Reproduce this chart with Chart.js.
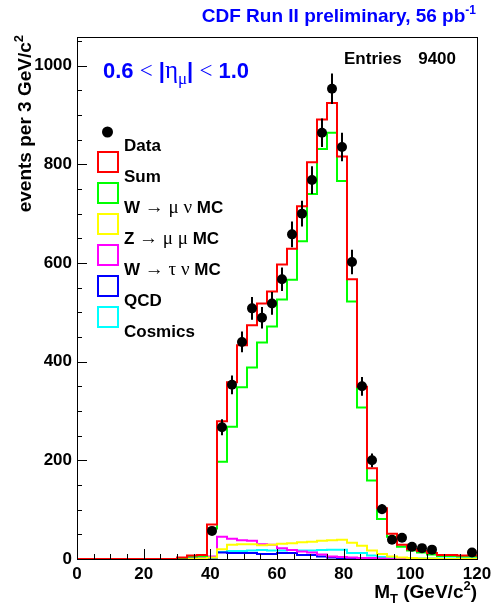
<!DOCTYPE html>
<html>
<head>
<meta charset="utf-8">
<script src="https://cdn.jsdelivr.net/npm/chart.js@4.4.0/dist/chart.umd.min.js"></script>
<style>
    body { margin: 0; background: #fff; }
    canvas { display: block; }
</style>
</head>
<body>
<canvas id="mt-chart" width="502" height="608"></canvas>
<script>
// M_T histogram, 3 GeV bins from 0 to 120
var binLow = 0;
var binWidth = 3;

var xTickValues = [0, 20, 40, 60, 80, 100, 120];
var yTickValues = [0, 200, 400, 600, 800, 1000];

var dataCounts = [
    null, null, null, null, null, null, null, null, null, null,
    null, null, null, 57, 267, 353, 440, 508, 489, 518,
    567, 658, 700, 768, 864, 953, 835, 602, 350, 200,
    101, 39, 43, 25, 22, 19, null, null, null, 13
];
var dataErrors = [
    null, null, null, null, null, null, null, null, null, null,
    null, null, null, 8, 16, 19, 21, 23, 22, 23,
    24, 26, 26, 28, 29, 31, 29, 25, 19, 14,
    10, 6, 7, 5, 5, 4, null, null, null, 4
];
var sumMC = [
    0, 0, 0, 0, 0, 0, 0, 0, 0, 0,
    3, 7, 8, 70, 279, 358, 433, 474, 518, 542,
    597, 629, 715, 804, 891, 924, 816, 567, 349, 184,
    103, 51, 29, 20, 16, 12, 8, 8, 7, 7
];
var wMuNu = [
    0, 0, 0, 0, 0, 0, 0, 0, 0, 0,
    2, 5, 6, 62, 197, 268, 348, 388, 439, 471,
    526, 566, 644, 740, 831, 864, 766, 522, 307, 159,
    81, 45, 25, 17, 13, 9, 6, 6, 5, 5
];
var zMuMu = [
    0, 0, 0, 0, 0, 0, 0, 0, 0, 0,
    0, 0, 1, 3, 20, 29, 30, 30, 28, 29,
    31, 32, 34, 35, 37, 38, 39, 33, 27, 17,
    10, 5, 3, 2, 1, 1, 0, 0, 0, 0
];
var wTauNu = [
    0, 0, 0, 0, 0, 0, 0, 0, 0, 0,
    1, 1, 1, 5, 45, 41, 38, 37, 30, 29,
    22, 18, 15, 13, 9, 5, 4, 3, 2, 2,
    1, 0, 0, 0, 0, 0, 0, 0, 0, 0
];
var qcd = [
    0, 0, 0, 0, 0, 0, 0, 0, 0, 0,
    0, 1, 1, 3, 13, 12, 12, 12, 10, 10,
    12, 12, 8, 8, 5, 3, 2, 2, 1, 1,
    0, 0, 0, 0, 0, 0, 0, 0, 0, 0
];
var cosmics = [
    0, 0, 0, 0, 0, 0, 0, 0, 0, 0,
    0, 0, 1, 2, 14, 16, 16, 17, 18, 17,
    17, 18, 17, 17, 18, 19, 19, 12, 12, 7,
    4, 3, 2, 2, 1, 1, 1, 1, 1, 1
];

var SANS = '"Liberation Sans", Arial, Helvetica, sans-serif';
var SERIF = '"Liberation Serif", "Times New Roman", serif';

var bold = function (px) { return 'bold ' + px + 'px ' + SANS; };
var sym = function (px) { return px + 'px ' + SERIF; };

// step outline through the bin edges
var histPoints = function (values) {
    var pts = [];
    for (var i = 0; i < values.length; i++) {
        pts.push({ x: binLow + i * binWidth, y: values[i] });
    }
    pts.push({ x: binLow + values.length * binWidth, y: values[values.length - 1] });
    return pts;
};

var dataPoints = function () {
    var pts = [];
    for (var i = 0; i < dataCounts.length; i++) {
        if (dataCounts[i] === null) continue;
        pts.push({ x: binLow + (i + 0.5) * binWidth, y: dataCounts[i], err: dataErrors[i] });
    }
    return pts;
};

var histSet = function (label, values, color, order) {
    return {
        label: label,
        data: histPoints(values),
        borderColor: color,
        borderWidth: 2,
        pointRadius: 0,
        stepped: 'before',
        fill: false,
        order: order
    };
};

// parts: [text, font, dy]
var drawParts = function (ctx, parts, x, y, align) {
    var total = 0;
    parts.forEach(function (p) { ctx.font = p[1]; total += ctx.measureText(p[0]).width; });
    var cx = align === 'right' ? x - total : x;
    ctx.textAlign = 'left';
    ctx.textBaseline = 'alphabetic';
    parts.forEach(function (p) {
        ctx.font = p[1];
        ctx.fillText(p[0], cx, y + (p[2] || 0));
        cx += ctx.measureText(p[0]).width;
    });
};

var legendItems = [
    { label: [['Data', bold(17)]], color: '#000', marker: true },
    { label: [['Sum', bold(17)]], color: '#ff0000' },
    { label: [['W ', bold(17)], ['\u2192 \u03bc \u03bd', sym(19)], [' MC', bold(17)]], color: '#00ff00' },
    { label: [['Z ', bold(17)], ['\u2192 \u03bc \u03bc', sym(19)], [' MC', bold(17)]], color: '#ffff00' },
    { label: [['W ', bold(17)], ['\u2192 \u03c4 \u03bd', sym(19)], [' MC', bold(17)]], color: '#ff00ff' },
    { label: [['QCD', bold(17)]], color: '#0000ff' },
    { label: [['Cosmics', bold(17)]], color: '#00ffff' }
];

var errorBars = {
    id: 'errorBars',
    beforeDatasetDraw: function (chart, args) {
        var ds = chart.data.datasets[args.index];
        if (!ds.isData) return;
        var ctx = chart.ctx, xs = chart.scales.x, ys = chart.scales.y;
        ctx.save();
        ctx.strokeStyle = '#000';
        ctx.lineWidth = 2;
        ds.data.forEach(function (p) {
            var px = Math.round(xs.getPixelForValue(p.x));
            ctx.beginPath();
            ctx.moveTo(px, ys.getPixelForValue(p.y - p.err));
            ctx.lineTo(px, ys.getPixelForValue(p.y + p.err));
            ctx.stroke();
        });
        ctx.restore();
    }
};

var rootFrame = {
    id: 'rootFrame',
    afterDraw: function (chart) {
        var ctx = chart.ctx, a = chart.chartArea;
        var xs = chart.scales.x, ys = chart.scales.y;
        ctx.save();

        // frame
        ctx.strokeStyle = '#000';
        ctx.lineWidth = 1;
        ctx.strokeRect(a.left + 0.5, a.top + 0.5, a.right - a.left, a.bottom - a.top);

        // ticks pointing inwards
        ctx.beginPath();
        for (var v = 0; v <= 1050; v += 50) {
            var py = Math.round(ys.getPixelForValue(v)) + 0.5;
            var len = v % 200 === 0 ? 10 : 5;
            ctx.moveTo(a.left, py);
            ctx.lineTo(a.left + len, py);
        }
        for (var u = 0; u <= 120; u += 5) {
            var px = Math.round(xs.getPixelForValue(u)) + 0.5;
            var l2 = u % 20 === 0 ? 10 : 5;
            ctx.moveTo(px, a.bottom);
            ctx.lineTo(px, a.bottom - l2);
        }
        ctx.stroke();

        // titles
        ctx.fillStyle = '#0000ff';
        drawParts(ctx, [['CDF Run II preliminary, 56 pb', bold(19)], ['-1', bold(12), -8]], 476, 22, 'right');
        drawParts(ctx, [
            ['0.6 ', bold(22)], ['<', sym(23)], [' |', bold(22)], ['\u03b7', sym(25)],
            ['\u03bc', sym(17), 6], ['| ', bold(22)], ['<', sym(23)], [' 1.0', bold(22)]
        ], 103, 78, 'left');

        ctx.fillStyle = '#000';
        drawParts(ctx, [['Entries', bold(17)]], 344, 64, 'left');
        drawParts(ctx, [['9400', bold(17)]], 456, 64, 'right');

        // axis titles
        drawParts(ctx, [['M', bold(19)], ['T', bold(13), 5], [' (GeV/c', bold(19)], ['2', bold(13), -8], [')', bold(19)]], 477, 598, 'right');
        ctx.save();
        ctx.translate(31, 35);
        ctx.rotate(-Math.PI / 2);
        drawParts(ctx, [['events per 3 GeV/c', bold(19)], ['2', bold(13), -8]], 0, 0, 'right');
        ctx.restore();

        // legend
        legendItems.forEach(function (item, i) {
            var top = 121 + i * 31;
            if (item.marker) {
                ctx.fillStyle = '#000';
                ctx.beginPath();
                ctx.arc(107.5, top + 11, 5.5, 0, Math.PI * 2);
                ctx.fill();
            } else {
                ctx.strokeStyle = item.color;
                ctx.lineWidth = 2;
                ctx.strokeRect(98, top, 20, 20);
            }
            ctx.fillStyle = '#000';
            drawParts(ctx, item.label, 124, top + 30, 'left');
        });

        ctx.restore();
    }
};

var plainLabel = function (value) { return String(value); };

var chart = new Chart(document.getElementById('mt-chart'), {
    type: 'line',
    data: {
        datasets: [
            {
                label: 'Data',
                isData: true,
                data: dataPoints(),
                showLine: false,
                pointRadius: 5,
                pointBackgroundColor: '#000',
                pointBorderWidth: 0,
                order: 0
            },
            histSet('Sum', sumMC, '#ff0000', 1),
            histSet('W -> mu nu MC', wMuNu, '#00ff00', 2),
            histSet('Z -> mu mu MC', zMuMu, '#ffff00', 3),
            histSet('W -> tau nu MC', wTauNu, '#ff00ff', 4),
            histSet('QCD', qcd, '#0000ff', 5),
            histSet('Cosmics', cosmics, '#00ffff', 6)
        ]
    },
    options: {
        responsive: false,
        animation: false,
        layout: { padding: { left: 0, right: 25, top: 37, bottom: 0 } },
        plugins: {
            legend: { display: false },
            tooltip: { enabled: false },
            title: { display: false }
        },
        scales: {
            x: {
                type: 'linear',
                min: 0,
                max: 120,
                grid: { display: false, drawTicks: false },
                border: { display: false },
                ticks: { color: '#000', font: { family: SANS, size: 17, weight: 'bold' }, padding: 5, maxRotation: 0, autoSkip: false, callback: plainLabel },
                afterBuildTicks: function (s) { s.ticks = xTickValues.map(function (v) { return { value: v }; }); },
                afterFit: function (s) { s.height = 49; }
            },
            y: {
                min: 0,
                max: 1058,
                grid: { display: false, drawTicks: false },
                border: { display: false },
                ticks: { color: '#000', font: { family: SANS, size: 17, weight: 'bold' }, padding: 5, callback: plainLabel },
                afterBuildTicks: function (s) { s.ticks = yTickValues.map(function (v) { return { value: v }; }); },
                afterFit: function (s) { s.width = 77; }
            }
        }
    },
    plugins: [errorBars, rootFrame]
});
</script>
</body>
</html>
